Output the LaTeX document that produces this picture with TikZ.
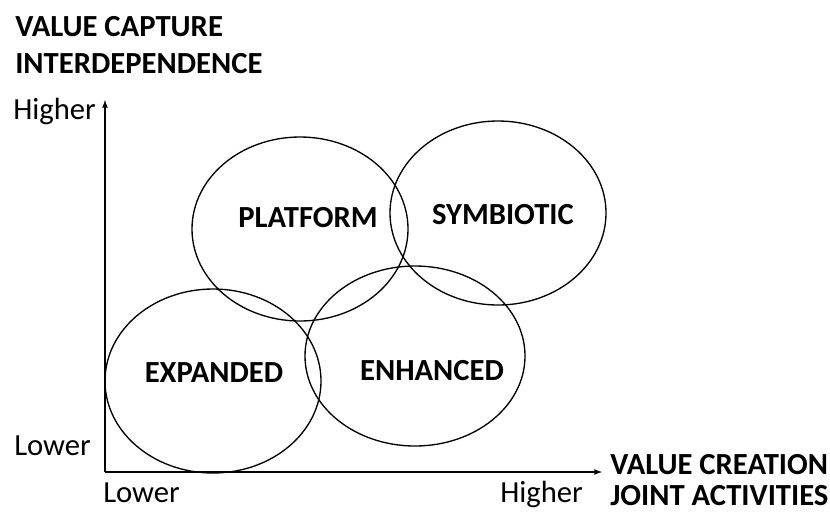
\documentclass[tikz,border=0pt]{standalone}
\usepackage{fontspec}
\setmainfont{Carlito}
\usetikzlibrary{arrows, positioning}
\begin{document}
\begin{tikzpicture}[x=0.75pt, y=-0.75pt, font=\fontsize{23}{28}\selectfont,
    label/.style={inner sep=0pt, anchor=base west},
    title/.style={label, font=\fontsize{23}{28}\selectfont\bfseries},
    zone/.style={inner sep=0pt, font=\fontsize{23}{28}\selectfont\bfseries}]
    % Parameters (pixels of the reference)
    \def\originX{105}   % x of the origin
    \def\originY{472}   % y of the origin
    \def\axisTop{100}   % top of the vertical axis
    \def\axisRight{602} % end of the horizontal axis
    \def\radX{108}      % horizontal radius of the zones
    \def\radY{91}       % vertical radius of the zones

    \useasboundingbox (0,0) rectangle (830,511);

    % Axes
    \coordinate (origin) at (\originX, \originY);
    \coordinate (ytip) at (\originX, \axisTop);
    \coordinate (xtip) at (\axisRight, \originY);
    \draw[line width=1pt, -latex] (origin) -- (ytip);
    \draw[line width=1pt, -latex] (origin) -- (xtip);

    % Zones
    \draw[line width=1pt] (300, 229) ellipse ({\radX} and {\radY+1});
    \draw[line width=1pt] (498, 213) ellipse ({\radX} and {\radY+1});
    \draw[line width=1pt] (213, 381) ellipse ({\radX} and {\radY+1});
    \draw[line width=1pt] (415, 356) ellipse ({\radX+2} and {\radY-1});

    % Zone names
    \node[zone] (platform) at (308, 218) {PLATFORM};
    \node[zone] (symbiotic) at (503, 215) {SYMBIOTIC};
    \node[zone] (expanded) at (214, 373) {EXPANDED};
    \node[zone] (enhanced) at (432, 371) {ENHANCED};

    % Axis titles
    \node[title] (capture) at (15, 36) {VALUE CAPTURE};
    \node[title] (interdep) at (15, 73) {INTERDEPENDENCE};
    \node[title] (creation) at (610, 474) {VALUE CREATION};
    \node[title] (joint) at (610, 505) {JOINT ACTIVITIES};

    % Scale labels
    \node[label] (yhigh) at (13, 119) {Higher};
    \node[label] (ylow) at (14, 455) {Lower};
    \node[label] (xlow) at (103, 502) {Lower};
    \node[label] (xhigh) at (500, 502) {Higher};
\end{tikzpicture}
\end{document}
